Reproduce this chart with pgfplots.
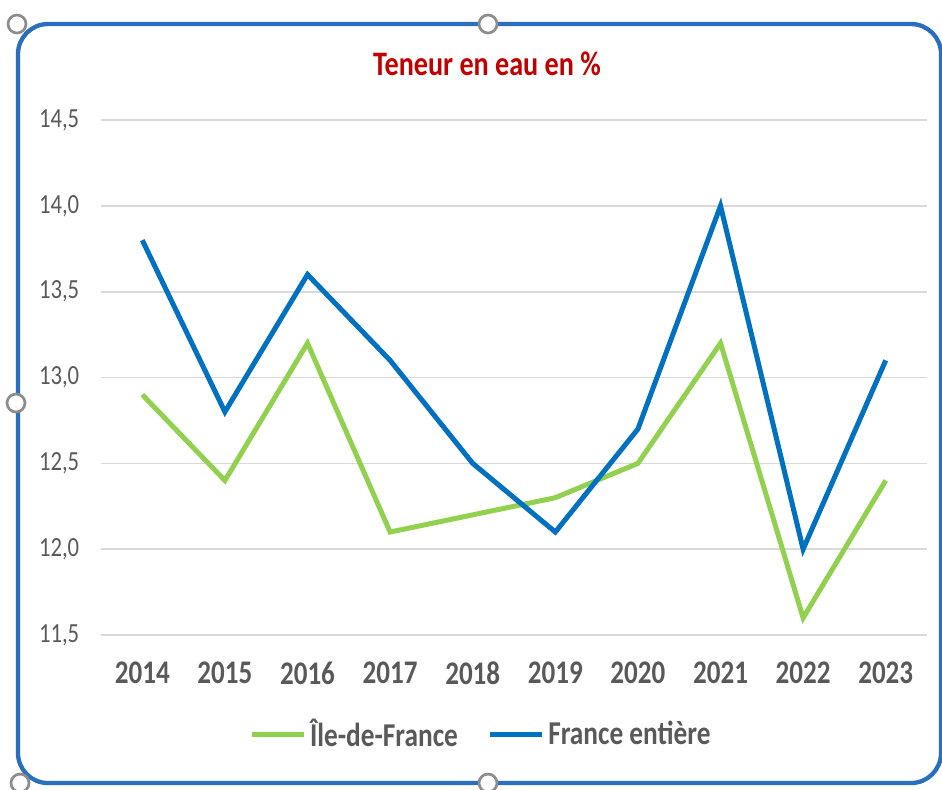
\documentclass[border=0pt]{standalone}
\usepackage{pgfplots}
\pgfplotsset{compat=1.18}
\usepackage{fontspec}
\setmainfont{Carlito}[FakeStretch=0.82]
\definecolor{idf}{HTML}{92D050}
\definecolor{fr}{HTML}{0070C0}
\definecolor{txt}{HTML}{595959}
\definecolor{ttl}{HTML}{C00000}
\definecolor{gridc}{HTML}{D9D9D9}
\definecolor{framec}{HTML}{2A6FBE}
\begin{document}
\begin{tikzpicture}
\useasboundingbox (0,0) rectangle (282.6pt,-236.7pt);
\begin{scope}[x=0.3pt,y=-0.3pt]
\draw[framec, line width=1.3pt, rounded corners=9pt] (18,24) rectangle (941,783);
\foreach \p in {(17,24),(488,24),(16,403),(488,783),(20,783)}
  \draw[black!45, line width=0.8pt, fill=white] \p circle (2.7pt);
\node[ttl, font=\bfseries\fontsize{10.3}{12}\selectfont] at (487,64) {Teneur en eau en \%};
\end{scope}
\begin{axis}[
  at={(30.3pt,-190.5pt)}, anchor=south west,
  scale only axis, width=247.8pt, height=154.5pt,
  xmin=-0.5, xmax=9.5, ymin=11.5, ymax=14.5,
  xtick={0,...,9},
  xticklabels={2014,2015,2016,2017,2018,2019,2020,2021,2022,2023},
  ytick={11.5,12,12.5,13,13.5,14,14.5},
  ymajorgrids, grid style={gridc, line width=0.5pt},
  axis line style={draw=none},
  major tick style={draw=none},
  yticklabel style={/pgf/number format/.cd, fixed, fixed zerofill, precision=1, use comma, assume math mode=true,
     /tikz/.cd, font=\fontsize{8.3}{10}\selectfont, text=txt, xshift=-3pt},
  xticklabel style={font=\bfseries\fontsize{9.9}{12}\selectfont, text=txt, yshift=-4.5pt},
  legend style={at={(0.461,-0.194)}, anchor=center, draw=none, fill=none,
     legend columns=2, font=\bfseries\fontsize{10}{12}\selectfont, text=txt,
     /tikz/every even column/.append style={column sep=8pt},
     nodes={inner sep=1pt}},
  legend image code/.code={\draw[#1] (0pt,0pt) -- (15.6pt,0pt);},
]
\addplot[idf, line width=1.5pt] coordinates {(0,12.9) (1,12.4) (2,13.2) (3,12.1) (4,12.2) (5,12.3) (6,12.5) (7,13.2) (8,11.6) (9,12.4)};
\addlegendentry{Île-de-France}
\addplot[fr, line width=1.5pt] coordinates {(0,13.8) (1,12.8) (2,13.6) (3,13.1) (4,12.5) (5,12.1) (6,12.7) (7,14.0) (8,12.0) (9,13.1)};
\addlegendentry{France entière}
\end{axis}
\end{tikzpicture}
\end{document}
